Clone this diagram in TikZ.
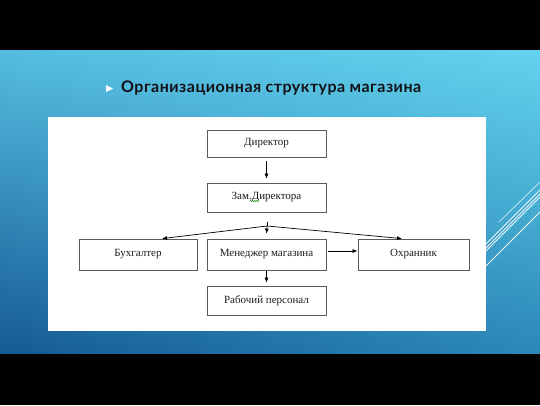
\documentclass[tikz,border=0pt]{standalone}
\usepackage{fontspec}
\setmainfont{Liberation Serif}
\newfontfamily\titlefont[LetterSpace=3]{Lato}
\usetikzlibrary{arrows.meta,decorations.pathmorphing,shadings}
\definecolor{bgUL}{HTML}{55BDE0}
\definecolor{bgUR}{HTML}{63D3EE}
\definecolor{bgLL}{HTML}{155A94}
\definecolor{bgLR}{HTML}{2B88B8}
\definecolor{boxline}{HTML}{5A5A5A}
\definecolor{txt}{HTML}{1E1E1E}
\definecolor{squig}{HTML}{3C9A3C}
\tikzset{
  box/.style={draw=boxline, line width=0.8pt, fill=white, inner sep=0pt,
    minimum width=119pt, minimum height=29pt, font=\fontsize{11}{13}\selectfont, text=txt},
  arr/.style={-{Latex[length=5pt,width=4pt]}, line width=0.7pt, black},
  deco/.style={draw=white, line width=0.9pt, opacity=0.9},
}
\begin{document}
\begin{tikzpicture}[x=1pt,y=-1pt]
\useasboundingbox (0,0) rectangle (540,405);
% background
\fill[black] (0,0) rectangle (540,405);
\shade[upper left=bgUL, upper right=bgUR, lower left=bgLL, lower right=bgLR]
  (0,50) rectangle (540,353);
% decorative lines
\draw[deco] (486,244) -- (540,190);
\draw[deco] (486,248) -- (540,194);
\draw[deco] (486,251) -- (540,197);
\draw[deco] (486,266) -- (540,212);
\draw[deco, opacity=0.6] (499,222) -- (540,182);
% title
\fill[white] (106,85) -- (113,88.5) -- (106,92) -- cycle;
\node[anchor=west, inner sep=0pt, font=\titlefont\bfseries\fontsize{16}{19}\selectfont, text={rgb,255:red,18;green,18;blue,24}] (title) at (121,88) {Организационная структура магазина};
% panel
\fill[white] (48,117) rectangle (486,331);
% boxes
\node[box, minimum height=27pt] (dir) at (266.5,143.5) {Директор};
\node[box] (zam) at (266.5,197.5) {\raisebox{3pt}{Зам.Директора}};
\node[box, minimum width=118pt, minimum height=31pt] (buh) at (138,254.5) {\raisebox{3.5pt}{Бухгалтер}};
\node[box, minimum height=31pt] (men) at (266.5,254.5) {\raisebox{3.5pt}{Менеджер магазина}};
\node[box, minimum width=111pt, minimum height=31pt] (okh) at (413.5,254.5) {\raisebox{3.5pt}{Охранник}};
\node[box] (rab) at (266.5,300.5) {\raisebox{2.5pt}{Рабочий персонал}};
% spell-check squiggle
\draw[squig, line width=0.6pt, decorate, decoration={zigzag, segment length=2pt, amplitude=0.6pt}] (250,201) -- (259,201);
% connectors
\draw[arr] ([yshift=-4pt]dir.south) -- ([yshift=4pt]zam.north);
\coordinate (stub) at (267,222);
\coordinate (fan) at (267,226);
\draw[line width=0.7pt] (stub) -- (fan);
\draw[arr] (fan) -- ([xshift=24pt]buh.north);
\draw[arr] (fan) -- ([xshift=-11.5pt]okh.north);
\draw[arr] (fan) -- ([yshift=5pt]men.north);
\draw[arr] ([xshift=2pt,yshift=3.5pt]men.east) -- ([yshift=3.5pt]okh.west);
\draw[arr] ([yshift=-1pt]men.south) -- ([yshift=3pt]rab.north);
\end{tikzpicture}
\end{document}
